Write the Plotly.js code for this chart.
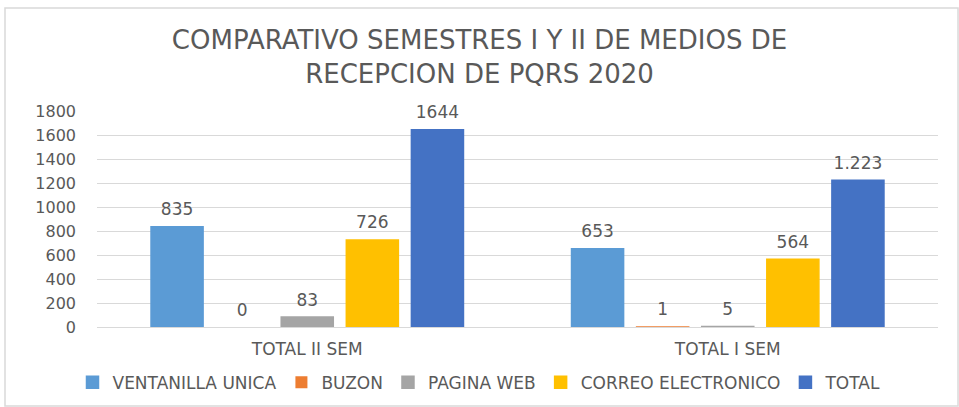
<!DOCTYPE html>
<html><head><meta charset="utf-8">
<script src="https://cdn.plot.ly/plotly-3.0.1.min.js"></script>
<style>html,body{margin:0;padding:0;background:#fff;}#chart{width:959px;height:407px;}</style>
</head><body><div id="chart"></div>
<script>
const categories = ["TOTAL II SEM", "TOTAL I SEM"];
const seriesNames = ["VENTANILLA UNICA", "BUZON", "PAGINA WEB", "CORREO ELECTRONICO", "TOTAL"];
const ventanilla = [835, 653];
const buzon = [0, 1];
const paginaWeb = [83, 5];
const correo = [726, 564];
const total = [1644, 1223];
const totalLabels = ["1644", "1.223"];
const colors = ["#5B9BD5", "#ED7D31", "#A5A5A5", "#FFC000", "#4472C4"];
const yTicks = [0, 200, 400, 600, 800, 1000, 1200, 1400, 1600, 1800];

const allValues = [ventanilla, buzon, paginaWeb, correo, total];
const barTraces = allValues.map((vals, i) => ({
  type: "bar",
  name: seriesNames[i],
  x: categories,
  y: vals,
  marker: {color: colors[i], line: {color: colors[i], width: vals.map(v => v > 0 ? 1.5 : 0)}},
  hoverinfo: "none"
}));
const labelTraces = allValues.map((vals, i) => ({
  type: "scatter",
  mode: "markers+text",
  showlegend: false,
  x: categories,
  y: vals,
  marker: {size: 10, opacity: 0, color: colors[i]},
  text: i === 4 ? totalLabels : vals.map(String),
  textposition: "top center",
  cliponaxis: false,
  textfont: {family: "DejaVu Sans", size: 17, color: "#595959"},
  hoverinfo: "none"
}));

const layout = {
  width: 959, height: 407,
  margin: {l: 97, r: 21, t: 111, b: 80},
  paper_bgcolor: "#fff", plot_bgcolor: "#fff",
  title: {text: "COMPARATIVO SEMESTRES I Y II DE MEDIOS DE<br>RECEPCION DE PQRS 2020",
    font: {family: "DejaVu Sans", size: 26, color: "#595959"}, x: 0.5, xref: "container", xanchor: "center",
    y: 0.879, yref: "container", yanchor: "middle"},
  barmode: "group", bargap: 0.226, bargroupgap: 0.2,
  scattermode: "group", scattergap: 0.226,
  xaxis: {tickfont: {family: "DejaVu Sans", size: 17, color: "#595959"}, showline: false, ticks: "", fixedrange: true,
    automargin: false, ticklabelstandoff: 10},
  yaxis: {range: [0, 1800], tickvals: yTicks, ticktext: yTicks.map(String),
    tickfont: {family: "DejaVu Sans", size: 16, color: "#595959"}, automargin: false, ticklabelstandoff: 20,
    showgrid: true, gridcolor: "#D9D9D9", zeroline: true, zerolinecolor: "#D9D9D9", showline: false, ticks: "", ticklen: 0, fixedrange: true},
  showlegend: true,
  legend: {orientation: "h", x: 0.5, xref: "container", xanchor: "center", y: 0.06, yref: "container", yanchor: "middle",
    font: {family: "DejaVu Sans", size: 17, color: "#595959"}, itemwidth: 30, traceorder: "normal"},
  shapes: [{type: "rect", xref: "paper", yref: "paper", x0: -0.1094, x1: 1.0238, y0: -0.366, y1: 1.477,
    line: {color: "#D9D9D9", width: 1.5}, fillcolor: "rgba(0,0,0,0)"}]
};
Plotly.newPlot("chart", barTraces.concat(labelTraces), layout, {displayModeBar: false, staticPlot: true});
</script></body></html>
